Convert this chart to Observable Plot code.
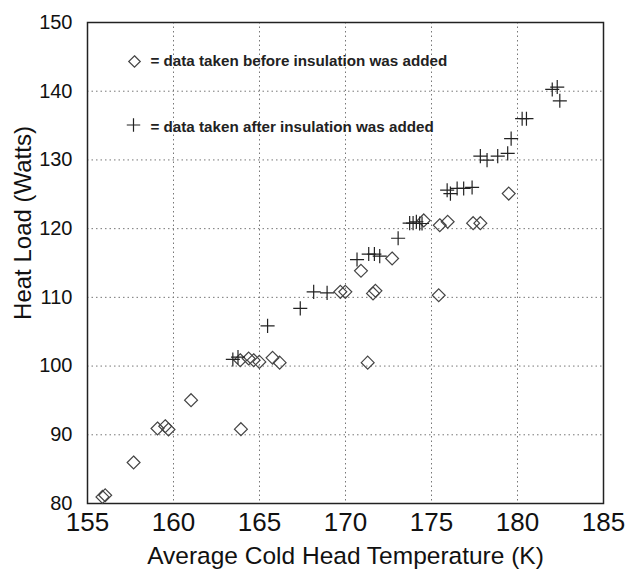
<!DOCTYPE html>
<html>
<head>
<meta charset="utf-8">
<script src="https://cdn.jsdelivr.net/npm/d3@7"></script>
<script src="https://cdn.jsdelivr.net/npm/@observablehq/plot@0.6"></script>
<style>
  html, body { margin: 0; padding: 0; background: #fff; }
  #chart { width: 629px; height: 571px; }
</style>
</head>
<body>
<div id="chart"></div>
<script>
// Data taken before insulation was added (diamonds)
const beforeTemp = [155.87, 156.03, 157.68, 159.07, 159.52, 159.71, 161.02, 163.92, 163.88, 164.37,
  164.66, 164.99, 165.76, 166.17, 171.29, 169.70, 169.99, 170.90, 171.60, 171.74,
  172.71, 174.55, 175.48, 175.94, 175.42, 177.42, 177.84, 179.49];
const beforeLoad = [80.96, 81.2, 85.97, 90.92, 91.25, 90.77, 95.04, 90.82, 100.86, 101.1,
  100.86, 100.61, 101.2, 100.5, 100.5, 110.8, 110.8, 113.86, 110.57, 110.95,
  115.66, 121.2, 120.5, 121.0, 110.3, 120.8, 120.8, 125.1];

// Data taken after insulation was added (plus signs)
const afterTemp = [163.45, 163.75, 165.47, 167.37, 168.15, 168.93, 170.67, 171.35, 171.68, 171.99,
  173.06, 173.73, 173.93, 174.12, 174.31, 174.45, 175.91, 176.10, 176.49, 176.87,
  177.36, 177.84, 178.23, 178.85, 179.43, 179.63, 180.27, 180.52, 182.02, 182.31, 182.46];
const afterLoad = [100.96, 101.3, 105.85, 108.4, 110.8, 110.65, 115.5, 116.3, 116.3, 116.0,
  118.6, 120.8, 120.8, 121.0, 120.75, 120.75, 125.6, 125.1, 125.85, 125.85,
  126.0, 130.55, 129.97, 130.55, 130.95, 133.1, 136.0, 136.0, 140.26, 140.6, 138.6];

const xTicks = [155, 160, 165, 170, 175, 180, 185];
const yTicks = [80, 90, 100, 110, 120, 130, 140, 150];
const xLabel = "Average Cold Head Temperature (K)";
const yLabel = "Heat Load (Watts)";
const legendBefore = "= data taken before insulation was added";
const legendAfter = "= data taken after insulation was added";

const before = beforeTemp.map((t, i) => ({t, q: beforeLoad[i]}));
const after = afterTemp.map((t, i) => ({t, q: afterLoad[i]}));

const font = "Arial, 'Liberation Sans', sans-serif";

const chart = Plot.plot({
  width: 629,
  height: 571,
  marginLeft: 87,
  marginRight: 26,
  marginTop: 22,
  marginBottom: 68,
  style: {fontFamily: font, background: "#fff", color: "#111"},
  x: {domain: [155, 185]},
  y: {domain: [80, 150]},
  marks: [
    Plot.gridX(xTicks.slice(1, -1), {stroke: "#777", strokeOpacity: 1, strokeDasharray: "1.5,3", strokeWidth: 1}),
    Plot.gridY(yTicks.slice(1, -1), {stroke: "#777", strokeOpacity: 1, strokeDasharray: "1.5,3", strokeWidth: 1}),
    Plot.axisX(xTicks, {tickSize: 0, tickPadding: 9, fontSize: 26, label: null, fill: "#111"}),
    Plot.axisY(yTicks, {tickSize: 0, tickPadding: 15, fontSize: 20, label: null, fill: "#111"}),
    Plot.frame({stroke: "#222", strokeWidth: 1.5}),
    Plot.dot(before, {x: "t", y: "q", symbol: "diamond2", r: 5.8, stroke: "#444", strokeWidth: 1.2, fill: "none"}),
    Plot.dot(after, {x: "t", y: "q", symbol: "plus", r: 4.6, stroke: "#222", strokeWidth: 1.2}),
    // legend inside plot
    Plot.dot([0], {frameAnchor: "top-left", dx: 47, dy: 39, symbol: "diamond2", r: 5.2, stroke: "#444", strokeWidth: 1.2, fill: "none"}),
    Plot.dot([0], {frameAnchor: "top-left", dx: 46, dy: 102.5, symbol: "plus", r: 4.4, stroke: "#222", strokeWidth: 1.2}),
    Plot.text([legendBefore], {frameAnchor: "top-left", dx: 63, dy: 38.5, text: d => d, textAnchor: "start", lineAnchor: "middle", fontSize: 15.2, fontWeight: "bold", fill: "#222"}),
    Plot.text([legendAfter], {frameAnchor: "top-left", dx: 63, dy: 104.5, text: d => d, textAnchor: "start", lineAnchor: "middle", fontSize: 15.2, fontWeight: "bold", fill: "#222"}),
    // axis titles
    Plot.text([xLabel], {frameAnchor: "bottom", dy: 53, text: d => d, textAnchor: "middle", lineAnchor: "middle", fontSize: 24.5, fill: "#111"}),
    Plot.text([yLabel], {frameAnchor: "left", dx: -64, dy: -40, text: d => d, rotate: -90, textAnchor: "middle", lineAnchor: "middle", fontSize: 24, fill: "#111"})
  ]
});
document.getElementById("chart").appendChild(chart);
</script>
</body>
</html>
